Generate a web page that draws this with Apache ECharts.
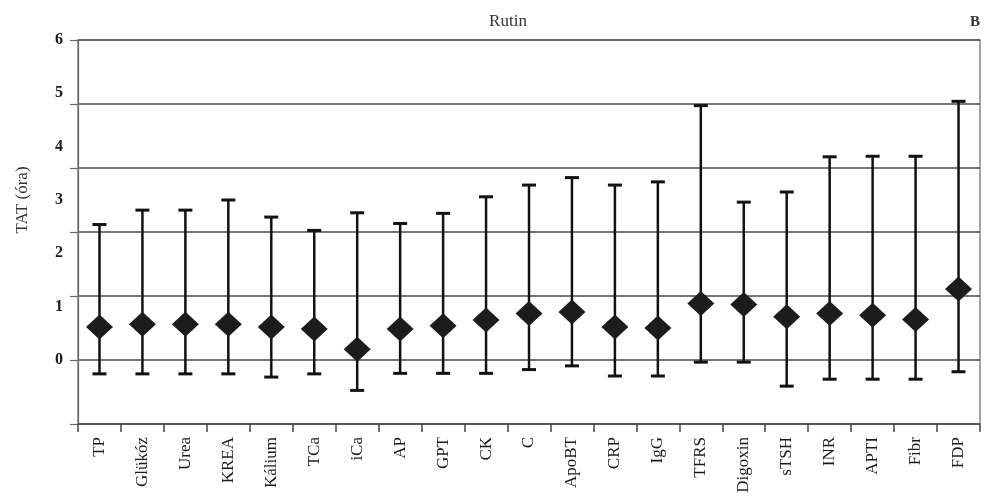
<!DOCTYPE html>
<html>
<head>
<meta charset="utf-8">
<script src="https://cdn.jsdelivr.net/npm/echarts@6/dist/echarts.min.js"></script>
<style>html,body{margin:0;padding:0;background:#fff;}#chart{width:985px;height:496px;}</style>
</head>
<body>
<div id="chart"></div>
<script>
const categories = ['TP','Glükóz','Urea','KREA','Kálium','TCa','iCa','AP','GPT','CK','C','ApoBT','CRP','IgG','TFRS','Digoxin','sTSH','INR','APTI','Fibr','FDP'];
const meanValues  = [0.62,0.67,0.67,0.67,0.62,0.58,0.20,0.58,0.64,0.75,0.87,0.90,0.62,0.60,1.06,1.04,0.81,0.87,0.84,0.76,1.33];
const lowerValues = [-0.26,-0.26,-0.26,-0.26,-0.32,-0.26,-0.57,-0.25,-0.25,-0.25,-0.18,-0.11,-0.30,-0.30,-0.04,-0.04,-0.49,-0.36,-0.36,-0.36,-0.22];
const upperValues = [2.54,2.81,2.81,3.00,2.68,2.43,2.76,2.56,2.75,3.06,3.28,3.42,3.28,3.34,4.77,2.96,3.15,3.81,3.82,3.82,4.85];
const yLabelValues = [0,1,2,3,4,5,6];
const yGridValues = [-1.2,0,1.2,2.4,3.6,4.8,6];

const serif = 'Liberation Serif';
const chart = echarts.init(document.getElementById('chart'), null, {renderer:'canvas'});
chart.setOption({
  animation: false,
  backgroundColor: '#fff',
  grid: {left: 78, right: 5, top: 40, bottom: 72, show: true, borderColor: '#666', borderWidth: 1.2},
  graphic: [
    {type:'text', x: 508, y: 22, style:{text:'Rutin', font:'17px "Liberation Serif"', fill:'#333', textAlign:'center', textVerticalAlign:'middle'}},
    {type:'text', x: 975, y: 22, style:{text:'B', font:'bold 15px "Liberation Serif"', fill:'#333', textAlign:'center', textVerticalAlign:'middle'}},
    {type:'text', x: 23, y: 200, rotation: Math.PI/2, style:{text:'TAT (óra)', font:'17px "Liberation Serif"', fill:'#333', textAlign:'center', textVerticalAlign:'middle'}}
  ],
  xAxis: {
    type: 'category',
    data: categories,
    boundaryGap: true,
    axisLine: {onZero: false, lineStyle: {color: '#555', width: 1.5}},
    axisTick: {show: true, length: 8, lineStyle: {color: '#444', width: 1.5}},
    axisLabel: {interval: 0, rotate: 90, margin: 13, fontFamily: serif, fontSize: 17, color: '#1a1a1a'},
    splitLine: {show: false}
  },
  yAxis: {
    type: 'value',
    min: -1.2, max: 6, interval: 1.2,
    axisLine: {show: true, lineStyle: {color: '#666', width: 1.2}},
    axisTick: {show: true, length: 8, customValues: yGridValues, lineStyle: {color: '#666', width: 1.2}},
    axisLabel: {customValues: yLabelValues, margin: 15, fontFamily: serif, fontSize: 16, fontWeight: 'bold', color: '#1a1a1a'},
    splitLine: {show: true, lineStyle: {color: '#4a4a4a', width: 1.5}}
  },
  series: [
    {
      type: 'custom',
      data: categories.map((c, i) => [i, lowerValues[i], upperValues[i]]),
      encode: {x: 0, y: [1, 2]},
      z: 2,
      renderItem: function (params, api) {
        const x = api.value(0);
        const lo = api.coord([x, api.value(1)]);
        const hi = api.coord([x, api.value(2)]);
        const cap = 7;
        const st = {stroke: '#111', lineWidth: 2.5};
        return {type: 'group', children: [
          {type: 'line', shape: {x1: lo[0], y1: lo[1], x2: hi[0], y2: hi[1]}, style: st},
          {type: 'line', shape: {x1: hi[0]-cap, y1: hi[1], x2: hi[0]+cap, y2: hi[1]}, style: {stroke:'#111', lineWidth: 3}},
          {type: 'line', shape: {x1: lo[0]-cap, y1: lo[1], x2: lo[0]+cap, y2: lo[1]}, style: {stroke:'#111', lineWidth: 3}}
        ]};
      }
    },
    {
      type: 'scatter',
      data: meanValues,
      symbol: 'diamond',
      symbolSize: [27, 25],
      itemStyle: {color: '#1c1c1c', opacity: 1},
      z: 3
    }
  ]
});
</script>
</body>
</html>
